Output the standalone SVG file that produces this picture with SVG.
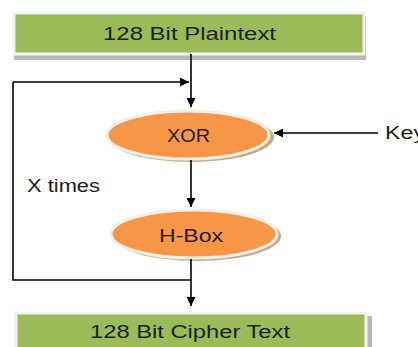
<svg xmlns="http://www.w3.org/2000/svg" width="418" height="347" viewBox="0 0 418 347">
<defs>
<style>
.box{fill:#9BBB59;stroke:#F2F2F2;stroke-width:3}
.shadow{fill:#B8B8B8}
.ell{fill:#F79646;stroke:#F4EEE8;stroke-width:3}
.eshadow{fill:#C9A98A}
.t{font-family:"Liberation Sans",Arial,sans-serif;font-size:18px;fill:#1E1E1E;text-anchor:start}
.c{fill:none;stroke:#000;stroke-width:1.6}
</style>
<marker id="ah" viewBox="0 0 10 10" refX="10" refY="5" markerWidth="9" markerHeight="9" markerUnits="userSpaceOnUse" orient="auto">
<path d="M0,0 L10,5 L0,10 z" fill="#000"/>
</marker>
</defs>
<rect width="418" height="347" fill="#fff"/>
<g id="plaintext">
<rect class="shadow" x="14" y="16" width="352" height="44"/>
<rect class="box" x="14" y="13" width="350" height="41"/>
<text class="t" x="103" y="40" textLength="173" lengthAdjust="spacingAndGlyphs">128 Bit Plaintext</text>
</g>
<g id="xor">
<ellipse class="eshadow" cx="191" cy="137" rx="83" ry="25"/>
<ellipse class="ell" cx="188" cy="135" rx="81" ry="24"/>
<text class="t" x="167" y="142" textLength="43" lengthAdjust="spacingAndGlyphs">XOR</text>
</g>
<g id="hbox">
<ellipse class="eshadow" cx="197" cy="236" rx="84" ry="25"/>
<ellipse class="ell" cx="194" cy="234" rx="83" ry="24"/>
<text class="t" x="159" y="242" textLength="64" lengthAdjust="spacingAndGlyphs">H-Box</text>
</g>
<g id="ciphertext">
<rect class="shadow" x="16" y="316" width="356" height="40"/>
<rect class="box" x="16" y="313" width="350" height="40"/>
<text class="t" x="90" y="338" textLength="200" lengthAdjust="spacingAndGlyphs">128 Bit Cipher Text</text>
</g>
<g id="key">
<text class="t" x="385" y="139" textLength="40" lengthAdjust="spacingAndGlyphs">Key</text>
</g>
<g id="xtimes">
<text class="t" x="27" y="192" textLength="73" lengthAdjust="spacingAndGlyphs">X times</text>
</g>
<g id="connectors">
<path class="c" d="M191,54 V107" marker-end="url(#ah)"/>
<path class="c" d="M13,82 H189" marker-end="url(#ah)"/>
<path class="c" d="M13,82 V280 H191"/>
<path class="c" d="M378,133 H274" marker-end="url(#ah)"/>
<path class="c" d="M191,160 V207" marker-end="url(#ah)"/>
<path class="c" d="M191,259 V306" marker-end="url(#ah)"/>
</g>
</svg>
